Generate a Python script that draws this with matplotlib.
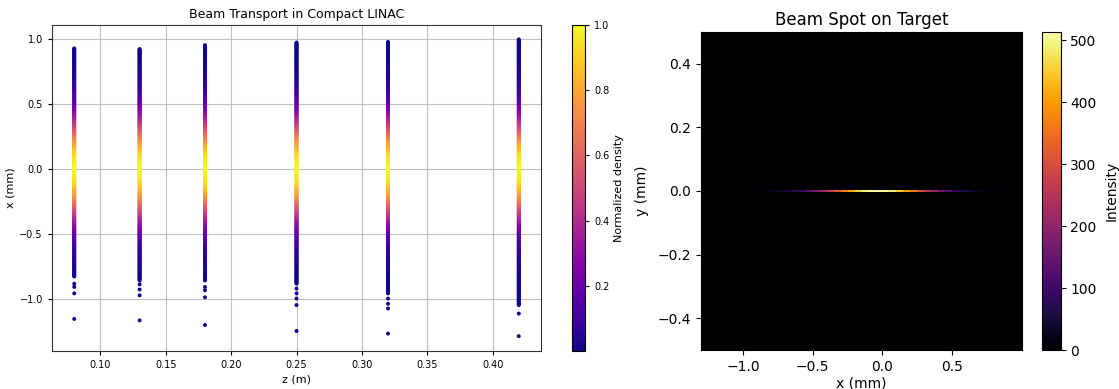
import numpy as np
import matplotlib
matplotlib.use("Agg")
import matplotlib.pyplot as plt

# ---------------- data ----------------
# Left panel: beam columns at positions along the LINAC
z_positions = [0.08, 0.13, 0.18, 0.25, 0.32, 0.42]
core_bottom = [-0.83, -0.86, -0.86, -0.885, -0.96, -1.05]
core_top = [0.93, 0.925, 0.955, 0.975, 0.98, 1.0]
tail_points = [
    [-0.885, -0.91, -0.96, -1.157],
    [-0.89, -0.93, -0.975, -1.168],
    [-0.91, -0.936, -0.99, -1.204],
    [-0.923, -0.96, -1.0, -1.05, -1.25],
    [-1.0, -1.04, -1.077, -1.27],
    [-1.116, -1.29],
]
# normalized density profile vs x (mm)
density_x = [-1.3, -1.2, -1.1, -1.0, -0.9, -0.8, -0.7, -0.6, -0.5, -0.4, -0.3, -0.2,
             -0.1, 0.0, 0.1, 0.2, 0.3, 0.4, 0.5, 0.6, 0.7, 0.8, 0.9, 1.0]
density_val = [0.00005, 0.0001, 0.0003, 0.001, 0.0039, 0.0124, 0.035, 0.085, 0.18,
               0.334, 0.54, 0.76, 0.934, 1.0, 0.934, 0.76, 0.54, 0.334, 0.18, 0.085,
               0.035, 0.0124, 0.0039, 0.001]

# Right panel: intensity along the central row of the target image (0.05 mm bins)
spot_x_edges = (-1.3, 1.0)
spot_y_edges = (-0.5, 0.5)
spot_profile = [0, 0, 0, 0, 1, 2, 4, 6, 10, 15, 24, 35, 51, 72, 98, 131, 171, 216,
                265, 316, 368, 415, 456, 488, 507, 513, 504, 483, 449, 407, 357, 306,
                255, 206, 162, 124, 93, 67, 47, 32, 21, 14, 9, 5, 3, 2]
spot_rows = 121

# ---------------- figure ----------------
W, H = 1119, 389
fig = plt.figure(figsize=(W / 100, H / 100), dpi=100)

def box(l, r, t, b):
    return [l / W, (H - b) / H, (r - l) / W, (b - t) / H]

ax1 = fig.add_axes(box(52, 541, 24.5, 351))
cax1 = fig.add_axes(box(572, 585, 25, 351))
ax2 = fig.add_axes(box(701, 1022, 32, 350))
cax2 = fig.add_axes(box(1042, 1060.5, 32, 350))

# left scatter
xs_all, zs_all = [], []
for z, lo, hi, tails in zip(z_positions, core_bottom, core_top, tail_points):
    core = np.arange(lo, hi + 1e-9, 0.005)
    pts = np.concatenate([core, np.array(tails)])
    xs_all.append(pts)
    zs_all.append(np.full(pts.shape, z))
xs_all = np.concatenate(xs_all)
zs_all = np.concatenate(zs_all)
cvals = np.interp(xs_all, density_x, density_val)
order = np.argsort(cvals)
sc = ax1.scatter(zs_all[order], xs_all[order], c=cvals[order], cmap="plasma",
                 s=8, edgecolors="none")
ax1.set_axisbelow(True)
ax1.grid(True, color="#b0b0b0", linewidth=0.8, alpha=0.8)
ax1.set_title("Beam Transport in Compact LINAC", fontsize=9, pad=5)
ax1.set_xlabel("z (m)", fontsize=8, labelpad=3)
ax1.set_ylabel("x (mm)", fontsize=8, labelpad=3)
ax1.tick_params(labelsize=7, length=3)
for sp in ax1.spines.values():
    sp.set_color("#333333")

cb1 = fig.colorbar(sc, cax=cax1)
cb1.set_label("Normalized density", fontsize=8, labelpad=3)
cb1.ax.tick_params(labelsize=7, length=3)

# right image
nx = len(spot_profile)
img = np.zeros((spot_rows, nx))
img[spot_rows // 2, :] = spot_profile
im = ax2.imshow(img, cmap="inferno", origin="lower", aspect="auto",
                interpolation="nearest",
                extent=[spot_x_edges[0], spot_x_edges[1], spot_y_edges[0], spot_y_edges[1]])
ax2.set_title("Beam Spot on Target", fontsize=12, pad=5)
ax2.set_xlabel("x (mm)", fontsize=10, labelpad=2)
ax2.set_ylabel("y (mm)", fontsize=10, labelpad=6)
ax2.set_xticks([-1.0, -0.5, 0.0, 0.5])
ax2.set_yticks([-0.4, -0.2, 0.0, 0.2, 0.4])
ax2.tick_params(labelsize=10)
cb2 = fig.colorbar(im, cax=cax2)
cb2.set_label("Intensity", fontsize=10, labelpad=6)
cb2.ax.tick_params(labelsize=10)

fig.savefig("out.png", dpi=100)
